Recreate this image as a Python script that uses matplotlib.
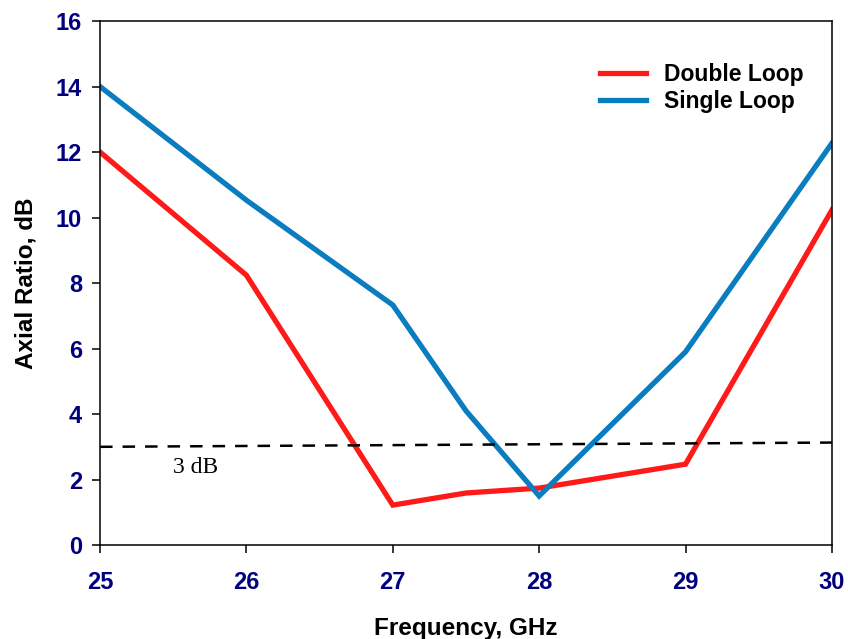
import numpy as np
import matplotlib.pyplot as plt

# data
freq = [25, 26, 27, 27.5, 28, 29, 30]
double_loop = [12.0, 8.24, 1.22, 1.59, 1.74, 2.47, 10.23]
single_loop = [14.0, 10.53, 7.33, 4.1, 1.5, 5.9, 12.27]
ref_x = [25, 30]
ref_db = [3.0, 3.13]

plt.rcParams['font.family'] = ['Liberation Sans', 'DejaVu Sans']

fig = plt.figure(figsize=(8.48, 6.39), dpi=100)
ax = fig.add_axes([0.118, 0.147, 0.863, 0.820])

ax.plot(freq, double_loop, color='#ff1a1a', lw=3.8, label='Double Loop',
        solid_joinstyle='miter')
ax.plot(freq, single_loop, color='#0a7dc0', lw=3.8, label='Single Loop',
        solid_joinstyle='miter')
ax.plot(ref_x, ref_db, color='black', lw=1.8, ls=(0, (5, 4)))
ax.text(25.655, 2.38, '3 dB', family=['Liberation Serif', 'DejaVu Serif'],
        fontsize=17, ha='center', va='center')

ax.set_xlim(25, 30)
ax.set_ylim(0, 16)
ax.set_xticks(np.arange(25, 31, 1))
ax.set_yticks(np.arange(0, 17, 2))
ax.tick_params(direction='out', length=6, width=1.1, labelsize=17,
               labelcolor='#00007f', pad=7)
ax.tick_params(axis='x', pad=13)
for lab in ax.get_xticklabels() + ax.get_yticklabels():
    lab.set_fontweight('bold')
for s in ax.spines.values():
    s.set_linewidth(1.1)

ax.set_xlabel('Frequency, GHz', fontsize=17.5, fontweight='bold', labelpad=16)
ax.set_ylabel('Axial Ratio, dB', fontsize=17.5, fontweight='bold', labelpad=13)

leg = ax.legend(loc='upper right', bbox_to_anchor=(0.99, 0.96), frameon=False,
                prop={'weight': 'bold', 'size': 16.5}, handlelength=2.0,
                labelspacing=0.2, handletextpad=0.8)

fig.savefig('out.png', dpi=100)
